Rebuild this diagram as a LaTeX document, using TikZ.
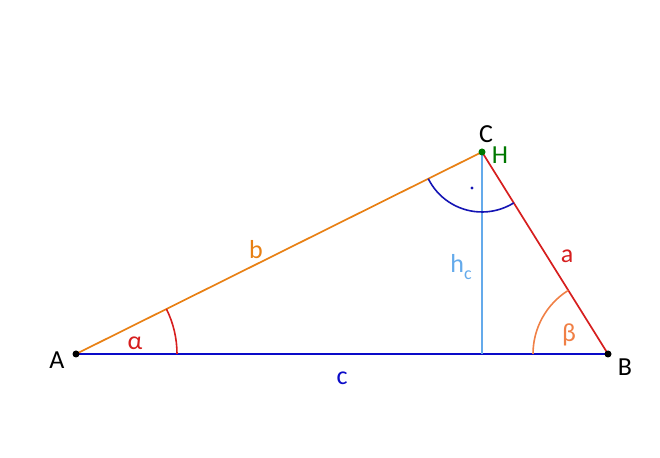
\documentclass[tikz,border=0pt]{standalone}
\usepackage{fontspec}
\setmainfont{Carlito}
\begin{document}
\begin{tikzpicture}[x=1pt,y=1pt,
  lbl/.style={font=\fontsize{26}{28}\selectfont, inner sep=0pt},
  side/.style={line width=1.7pt},
  pt/.style={circle, fill=black, inner sep=0pt, minimum size=7pt}]
\definecolor{corange}{RGB}{232,128,20}
\definecolor{cred}{RGB}{214,30,30}
\definecolor{cblue}{RGB}{10,10,200}
\definecolor{clblue}{RGB}{100,170,235}
\definecolor{cgreen}{RGB}{0,120,0}
\definecolor{cdblue}{RGB}{20,20,180}
\definecolor{corg2}{RGB}{240,128,70}
\useasboundingbox (0,0) rectangle (660,457);
\coordinate (A) at (76,103);
\coordinate (B) at (608,103);
\coordinate (C) at (482,305);
\coordinate (F) at (482,103);
% sides
\draw[side, cblue] (A) -- (B);
\draw[side, corange] (A) -- (C);
\draw[side, cred] (B) -- (C);
\draw[side, clblue, line width=1.4pt] (C) -- (F);
% angle arcs
\draw[cred, line width=1.6pt] ([shift={(0:101)}]A) arc[start angle=0, end angle=26.45, radius=101];
\draw[corg2, line width=1.6pt] ([shift={(121.96:75)}]B) arc[start angle=121.96, end angle=180, radius=75];
\draw[cdblue, line width=1.6pt] ([shift={(206.45:60)}]C) arc[start angle=206.45, end angle=301.96, radius=60];
\fill[cdblue] (472,269) circle (1.7);
% points
\node[pt] (pA) at (A) {};
\node[pt] (pB) at (B) {};
\node[pt, fill=cgreen] (pC) at (C) {};
% labels
\node[lbl] (lA) at (57,97) {A};
\node[lbl] (lB) at (625,90) {B};
\node[lbl] (lC) at (486,323) {C};
\node[lbl, text=cgreen] (lH) at (500,302) {H};
\node[lbl, text=corange] (lb) at (256,207) {b};
\node[lbl, text=cred] (la) at (567,201) {a};
\node[lbl, text=cblue] (lc) at (342,79) {c};
\node[lbl, text=clblue] (lh) at (461,190) {h\raisebox{-7pt}{\fontsize{18}{20}\selectfont c}};
\node[lbl, text=cred] (lal) at (135,114) {α};
\node[lbl, text=corg2] (lbe) at (569,122) {β};
\end{tikzpicture}
\end{document}
